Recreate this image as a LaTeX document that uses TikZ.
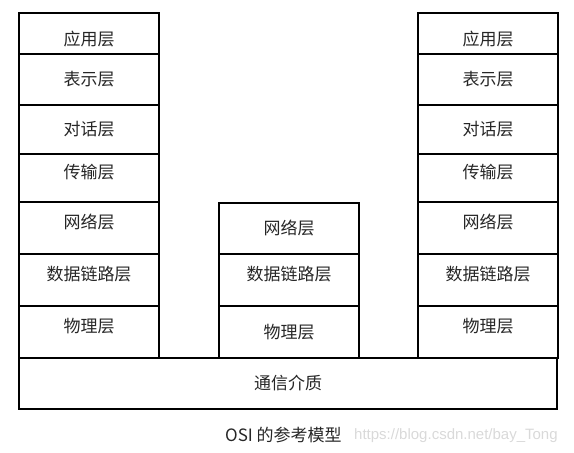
\documentclass[tikz,border=0pt]{standalone}
\usepackage{fontspec}
\newfontfamily\cjk{Noto Sans CJK SC}
\newfontfamily\wmfont{Liberation Sans}
\usetikzlibrary{positioning}

\begin{document}
\begin{tikzpicture}[
    x=1pt, y=-1pt,
    node distance=0pt and 0pt,
    every node/.style={text=black!85},
    layer/.style={draw, line width=1.2pt, outer sep=0pt, inner sep=0pt,
      minimum width=140pt, minimum height=52pt,
      font=\cjk\fontsize{17}{19}\selectfont},
    lift/.style={text height=12pt, text depth=12pt},
    sink/.style={text height=24pt, text depth=0pt}
  ]
  \useasboundingbox (0,0) rectangle (574,453);

  % Left stack
  \node[layer, sink, minimum height=41pt, anchor=north west] (lapp) at (19,13) {应用层};
  \node[layer, minimum height=51pt, below=of lapp] (lpre) {表示层};
  \node[layer, minimum height=49pt, below=of lpre] (lses) {对话层};
  \node[layer, lift, minimum height=48pt, below=of lses] (ltra) {传输层};
  \node[layer, lift, below=of ltra] (lnet) {网络层};
  \node[layer, lift, below=of lnet] (llnk) {数据链路层};
  \node[layer, lift, below=of llnk] (lphy) {物理层};

  % Middle stack
  \node[layer, minimum height=51pt, anchor=north west] (mnet) at (219,203) {网络层};
  \node[layer, lift, below=of mnet] (mlnk) {数据链路层};
  \node[layer, below=of mlnk] (mphy) {物理层};

  % Right stack
  \node[layer, sink, minimum height=41pt, anchor=north west] (rapp) at (418,13) {应用层};
  \node[layer, minimum height=51pt, below=of rapp] (rpre) {表示层};
  \node[layer, minimum height=49pt, below=of rpre] (rses) {对话层};
  \node[layer, lift, minimum height=48pt, below=of rses] (rtra) {传输层};
  \node[layer, lift, below=of rtra] (rnet) {网络层};
  \node[layer, lift, below=of rnet] (rlnk) {数据链路层};
  \node[layer, lift, below=of rlnk] (rphy) {物理层};

  % Medium
  \node[layer, minimum width=538pt, minimum height=51pt, below=of lphy.south west, anchor=north west] (medium) {通信介质};

  % Caption
  \node[font=\cjk\fontsize{17}{19}\selectfont, anchor=west, inner sep=0pt] (caption) at (225,435) {OSI 的参考模型};
  \node[font=\wmfont\fontsize{15}{17}\selectfont, text=black!15, anchor=west, inner sep=0pt] (mark) at (354,436) {https://blog.csdn.net/bay\_Tong};

\end{tikzpicture}
\end{document}
